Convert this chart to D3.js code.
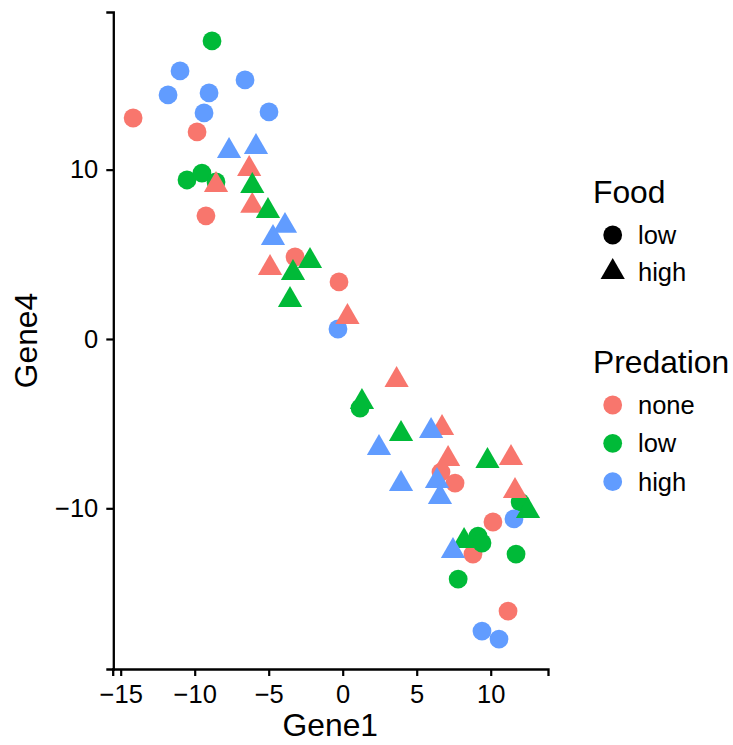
<!DOCTYPE html>
<html>
<head>
<meta charset="utf-8">
<script src="https://cdn.jsdelivr.net/npm/d3@7"></script>
<style>
  body { margin: 0; background: #fff; }
  text { font-family: "Liberation Sans", Arial, sans-serif; fill: #000; }
</style>
</head>
<body>
<script>
'use strict';

// Gene1 / Gene4 pairs, one array per predation x food group
const noneLow = [[-14.16, 13.05], [-9.84, 12.23], [-9.24, 7.27], [-3.22, 4.84], [-0.25, 3.37],
  [6.64, -7.86], [7.59, -8.51], [8.8, -12.7], [10.15, -10.81], [11.17, -16.07]];
const lowLow = [[-8.83, 17.6], [-10.52, 9.39], [-9.51, 9.8], [-8.56, 9.27], [1.17, -4.08],
  [7.8, -14.18], [9.14, -11.64], [9.41, -12.05], [11.71, -12.7], [11.99, -9.63]];
const highLow = [[-10.99, 15.83], [-11.8, 14.41], [-9.03, 14.53], [-9.37, 13.35], [-6.6, 15.3],
  [-4.98, 13.41], [-0.32, 0.59], [11.57, -10.63], [9.41, -17.25], [10.56, -17.72]];
const noneHigh = [[-8.56, 9.1], [-6.32, 10.04], [-6.11, 7.86], [-4.91, 4.19], [3.64, -2.42],
  [0.32, 1.3], [6.71, -5.26], [7.12, -7.09], [11.37, -7.03], [11.64, -8.98]];
const lowHigh = [[-6.11, 9.04], [-5.05, 7.56], [-2.21, 4.61], [-3.36, 3.9], [-3.56, 2.3],
  [1.3, -3.72], [3.94, -5.61], [9.78, -7.21], [12.52, -10.16], [8.2, -11.93]];
const highHigh = [[-7.68, 11.1], [-5.86, 11.34], [-3.9, 6.68], [-4.71, 5.97], [2.45, -6.44],
  [5.97, -5.43], [3.94, -8.56], [6.37, -8.39], [6.57, -9.33], [7.45, -12.52]];

const foodLevels = ["low", "high"];
const predationLevels = ["none", "low", "high"];
const xTicks = [-15, -10, -5, 0, 5, 10];
const yTicks = [-10, 0, 10];

(function() {
  const width = 733, height = 745;
  const svg = d3.select('body').append('svg')
    .attr('width', width)
    .attr('height', height);

  const xScale = d3.scaleLinear().domain([-15.54, 13.87]).range([112.7, 548]);
  const yScale = d3.scaleLinear().domain([-19.49, 19.31]).range([669, 12]);
  const colour = d3.scaleOrdinal().domain(predationLevels).range(['#F8766D', '#00BA38', '#619CFF']);

  // build the rows from the groups (circles drawn first, then triangles)
  const groups = [
    {pts: noneLow, food: 'low', pred: 'none'},
    {pts: lowLow, food: 'low', pred: 'low'},
    {pts: highLow, food: 'low', pred: 'high'},
    {pts: noneHigh, food: 'high', pred: 'none'},
    {pts: lowHigh, food: 'high', pred: 'low'},
    {pts: highHigh, food: 'high', pred: 'high'}
  ];
  let rows = [];
  groups.forEach(g => g.pts.forEach(p => rows.push({gene1: p[0], gene4: p[1], food: g.food, pred: g.pred})));

  const circleR = 9.4;
  const triangle = d3.symbol().type(d3.symbolTriangle).size(254);
  const disc = d3.arc()({innerRadius: 0, outerRadius: circleR, startAngle: 0, endAngle: 2 * Math.PI});
  const minusFmt = d => d < 0 ? '\u2212' + Math.abs(d) : d;

  // axes
  const xAxis = svg.append('g')
    .attr('transform', 'translate(0,669)')
    .call(d3.axisBottom(xScale).tickValues(xTicks).tickSizeOuter(0).tickSize(7).tickPadding(9)
      .tickFormat(minusFmt));
  const yAxis = svg.append('g')
    .attr('transform', 'translate(113.3,0)')
    .call(d3.axisLeft(yScale).tickValues(yTicks).tickSizeOuter(0).tickSize(7).tickPadding(8)
      .tickFormat(minusFmt));
  [xAxis, yAxis].forEach(a => {
    a.select('.domain').attr('stroke', '#000').attr('stroke-width', 2.3);
    a.selectAll('.tick line').attr('stroke', '#000').attr('stroke-width', 2.2);
    a.selectAll('.tick text').style('font-size', '25.5px').style('font-family', '"Liberation Sans", Arial, sans-serif').attr('fill', '#000');
  });

  // points
  svg.append('g').selectAll('.pt')
    .data(rows)
    .enter()
    .append('path')
    .attr('class', 'pt')
    .attr('transform', d => 'translate(' + xScale(d.gene1) + ',' + yScale(d.gene4) + ')')
    .attr('d', d => d.food === 'low' ? disc : triangle())
    .attr('fill', d => colour(d.pred));

  // axis titles
  svg.append('text')
    .attr('x', 330.3)
    .attr('y', 736)
    .attr('text-anchor', 'middle')
    .style('font-size', '31.8px')
    .text('Gene1');
  svg.append('text')
    .attr('transform', 'translate(37, 340.5)rotate(-90)')
    .attr('text-anchor', 'middle')
    .style('font-size', '31.8px')
    .text('Gene4');

  // legends
  const keyX = 612.7, labelX = 638;
  svg.append('text').attr('x', 593).attr('y', 203).style('font-size', '31.8px').text('Food');
  const foodY = [235, 272];
  foodLevels.forEach((f, i) => {
    svg.append('path')
      .attr('transform', 'translate(' + keyX + ',' + foodY[i] + ')')
      .attr('d', f === 'low' ? disc : triangle())
      .attr('fill', '#000');
    svg.append('text').attr('x', labelX).attr('y', foodY[i] + 8.5).style('font-size', '25.5px').text(f);
  });

  svg.append('text').attr('x', 593).attr('y', 373).style('font-size', '31.8px').text('Predation');
  const predY = [405, 443.3, 481.7];
  predationLevels.forEach((p, i) => {
    svg.append('circle')
      .attr('cx', keyX)
      .attr('cy', predY[i])
      .attr('r', circleR)
      .attr('fill', colour(p));
    svg.append('text').attr('x', labelX).attr('y', predY[i] + 9).style('font-size', '25.5px').text(p);
  });
})();
</script>
</body>
</html>
